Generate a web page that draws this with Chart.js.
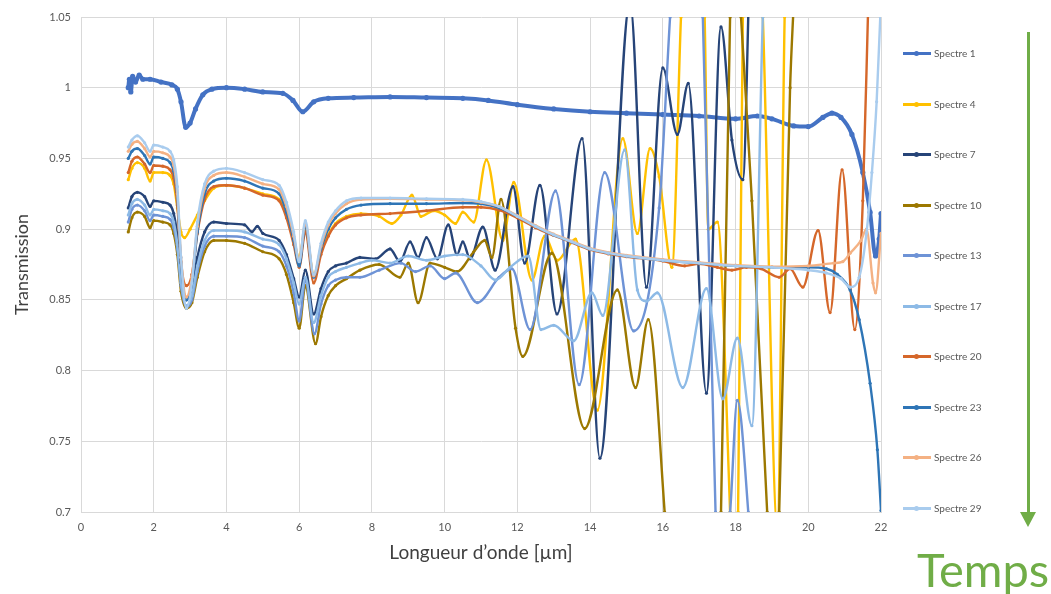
<!DOCTYPE html>
<html>
<head>
<meta charset="utf-8">
<script src="https://cdn.jsdelivr.net/npm/chart.js@4.4.1/dist/chart.umd.min.js"></script>
<style>
  html, body { margin: 0; padding: 0; background: #fff; }
  #wrap { position: relative; width: 1051px; height: 594px; font-family: Lato, "Open Sans", sans-serif; }
  #chart { position: absolute; left: 0; top: 0; }
  .leg { position: absolute; left: 903px; height: 12px; font-size: 10px; color: #595959; white-space: nowrap; }
  .leg .ln { position: absolute; left: 0; top: 5px; width: 28px; height: 3px; }
  .leg .dot { position: absolute; left: 11px; top: 4px; width: 5px; height: 5px; border-radius: 50%; }
  .leg .tx { position: absolute; left: 31px; top: 0px; }
  #shaft { position: absolute; left: 1027px; top: 32px; width: 3px; height: 482px; background: #70AD47; }
  #head { position: absolute; left: 1020px; top: 512px; width: 0; height: 0;
          border-left: 8.5px solid transparent; border-right: 8.5px solid transparent; border-top: 15px solid #70AD47; }
  #temps { position: absolute; left: 917px; top: 544px; font-size: 47px; color: #70AD47; line-height: 50px; }
</style>
</head>
<body>
<div id="wrap">
  <canvas id="chart" width="1051" height="594"></canvas>
  <div id="legend"></div>
  <div id="shaft"></div>
  <div id="head"></div>
  <div id="temps">Temps</div>
</div>
<script>
const names = ["Spectre 1", "Spectre 4", "Spectre 7", "Spectre 10", "Spectre 13",
               "Spectre 17", "Spectre 20", "Spectre 23", "Spectre 26", "Spectre 29"];
const colors = ["#4472C4", "#FFC000", "#264478", "#9C7800", "#6E93D6",
                "#8DBAE6", "#D5672A", "#2E75B6", "#F4B183", "#A9CCEE"];
const xTicks = [0, 2, 4, 6, 8, 10, 12, 14, 16, 18, 20, 22];
const yTicks = [0.7, 0.75, 0.8, 0.85, 0.9, 0.95, 1, 1.05];

// [wavelength µm, transmission]
const spectre1 = [[1.3,1.0],[1.33,1.006],[1.37,0.997],[1.42,1.008],[1.5,1.004],[1.6,1.009],[1.7,1.006],[1.9,1.006],[2.2,1.004],[2.5,1.002],[2.65,0.999],[2.75,0.99],[2.88,0.972],[3.0,0.975],[3.15,0.985],[3.35,0.995],[3.6,0.999],[4.0,1.0],[4.5,0.999],[5.0,0.997],[5.55,0.996],[5.83,0.991],[6.1,0.983],[6.4,0.99],[6.8,0.9925],[7.5,0.993],[8.5,0.9935],[9.5,0.993],[10.5,0.9925],[11.2,0.991],[12.0,0.988],[13.0,0.985],[14.0,0.983],[15.0,0.982],[16.0,0.981],[17.0,0.98],[18.0,0.978],[18.6,0.98],[19.0,0.978],[19.6,0.973],[20.0,0.9725],[20.4,0.979],[20.65,0.982],[20.9,0.979],[21.2,0.967],[21.5,0.94],[21.7,0.912],[21.85,0.881],[21.95,0.893],[22.0,0.911]];
const spectre4 = [[1.3,0.935],[1.4,0.943],[1.55,0.947],[1.75,0.943],[1.9,0.934],[2.0,0.94],[2.25,0.94],[2.45,0.938],[2.55,0.932],[2.65,0.915],[2.75,0.898],[2.85,0.894],[3.0,0.9],[3.2,0.91],[3.4,0.92],[3.65,0.929],[4.0,0.931],[4.5,0.929],[5.0,0.925],[5.45,0.921],[5.65,0.91],[5.85,0.892],[6.0,0.88],[6.17,0.9],[6.4,0.868],[6.6,0.884],[6.8,0.896],[7.0,0.904],[7.3,0.909],[7.7,0.911],[8.2,0.909],[8.55,0.904],[8.8,0.91],[9.1,0.924],[9.35,0.909],[9.7,0.913],[10.0,0.91],[10.3,0.904],[10.5,0.912],[10.8,0.905],[11.15,0.949],[11.6,0.892],[11.9,0.933],[12.4,0.864],[12.75,0.895],[13.1,0.878],[13.6,0.893],[14.2,0.772],[14.9,0.964],[15.3,0.897],[15.65,0.957],[15.9,0.937],[16.25,0.873],[16.5,1.05],[16.8,1.2],[17.15,1.05],[17.25,0.9],[17.5,0.905],[17.85,0.7],[17.95,0.62],[18.07,0.7],[18.2,1.05],[18.45,1.2],[18.75,1.05],[19.15,0.69],[19.35,1.05],[19.5,1.2]];
const spectre7 = [[1.3,0.915],[1.4,0.923],[1.55,0.926],[1.75,0.923],[1.9,0.916],[2.0,0.92],[2.25,0.919],[2.45,0.917],[2.55,0.911],[2.65,0.895],[2.75,0.868],[2.9,0.85],[3.05,0.858],[3.2,0.88],[3.4,0.898],[3.65,0.905],[4.0,0.904],[4.5,0.903],[4.7,0.898],[4.85,0.902],[5.0,0.897],[5.45,0.892],[5.65,0.882],[5.85,0.865],[6.0,0.852],[6.17,0.871],[6.4,0.84],[6.6,0.858],[6.8,0.87],[7.0,0.874],[7.3,0.876],[7.67,0.88],[8.1,0.879],[8.5,0.886],[8.77,0.877],[9.05,0.891],[9.27,0.88],[9.5,0.894],[9.8,0.879],[10.1,0.903],[10.34,0.882],[10.5,0.891],[10.7,0.879],[11.05,0.9015],[11.39,0.871],[11.88,0.93],[12.2,0.876],[12.62,0.931],[13.09,0.84],[13.78,0.964],[14.27,0.738],[15.1,1.06],[15.55,0.859],[16.0,1.014],[16.4,0.967],[16.7,1.003],[17.2,0.784],[17.6,1.043],[17.9,0.963],[18.2,0.935],[18.4,1.1]];
const spectre10 = [[1.3,0.898],[1.4,0.908],[1.55,0.912],[1.75,0.909],[1.9,0.901],[2.0,0.906],[2.25,0.905],[2.45,0.903],[2.55,0.897],[2.65,0.882],[2.75,0.856],[2.9,0.844],[3.05,0.848],[3.2,0.866],[3.4,0.884],[3.65,0.892],[4.0,0.892],[4.5,0.89],[5.0,0.884],[5.45,0.879],[5.65,0.868],[5.85,0.848],[6.0,0.83],[6.17,0.86],[6.45,0.819],[6.6,0.838],[6.8,0.853],[7.0,0.86],[7.3,0.865],[7.67,0.871],[8.2,0.875],[8.77,0.866],[9.0,0.876],[9.27,0.848],[9.6,0.876],[10.0,0.873],[10.34,0.87],[10.8,0.884],[11.1,0.892],[11.3,0.88],[11.55,0.921],[11.95,0.83],[12.15,0.81],[12.95,0.883],[13.85,0.759],[14.75,0.857],[15.25,0.788],[15.6,0.836],[16.05,0.7],[16.3,0.6],[17.4,0.6],[17.6,0.7],[17.85,1.05],[18.0,1.12],[18.15,1.05],[18.45,0.92],[18.87,0.7],[19.0,0.62],[19.2,0.7],[19.5,1.0],[19.6,1.06]];
const spectre13 = [[1.3,0.905],[1.4,0.914],[1.55,0.917],[1.75,0.913],[1.9,0.906],[2.0,0.91],[2.25,0.909],[2.45,0.907],[2.55,0.901],[2.65,0.886],[2.75,0.86],[2.9,0.845],[3.05,0.85],[3.2,0.87],[3.4,0.888],[3.65,0.895],[4.0,0.895],[4.5,0.894],[5.0,0.888],[5.45,0.884],[5.65,0.874],[5.85,0.855],[6.0,0.835],[6.17,0.864],[6.42,0.826],[6.6,0.847],[6.8,0.86],[7.0,0.864],[7.3,0.866],[7.67,0.866],[8.2,0.871],[8.8,0.876],[9.2,0.87],[9.6,0.874],[10.0,0.865],[10.3,0.869],[10.9,0.848],[11.5,0.866],[11.85,0.872],[12.35,0.829],[13.05,0.927],[13.7,0.79],[14.4,0.94],[15.2,0.828],[15.9,0.915],[16.2,1.05],[16.6,1.2],[17.1,1.05],[17.45,0.7],[17.6,0.65],[17.85,0.7],[18.05,0.779],[18.35,0.7],[18.5,0.64]];
const spectre17 = [[1.3,0.91],[1.4,0.918],[1.55,0.921],[1.75,0.917],[1.9,0.91],[2.0,0.914],[2.25,0.913],[2.45,0.911],[2.55,0.905],[2.65,0.889],[2.75,0.862],[2.9,0.846],[3.05,0.853],[3.2,0.874],[3.4,0.892],[3.65,0.899],[4.0,0.899],[4.5,0.898],[5.0,0.893],[5.45,0.889],[5.65,0.879],[5.85,0.862],[6.0,0.847],[6.17,0.866],[6.4,0.834],[6.6,0.853],[6.8,0.866],[7.0,0.87],[7.3,0.873],[7.67,0.876],[8.0,0.878],[8.5,0.876],[9.0,0.881],[9.5,0.878],[10.0,0.881],[10.5,0.882],[11.0,0.874],[11.4,0.864],[11.8,0.873],[12.3,0.881],[12.65,0.829],[13.0,0.832],[13.55,0.821],[14.05,0.855],[14.35,0.839],[14.95,0.956],[15.3,0.857],[15.55,0.849],[15.85,0.855],[16.55,0.788],[17.2,0.858],[17.65,0.78],[18.05,0.823],[18.45,0.761],[18.75,1.05],[18.9,1.15]];
const spectre20 = [[1.3,0.94],[1.4,0.948],[1.55,0.951],[1.75,0.946],[1.9,0.94],[2.0,0.945],[2.25,0.9445],[2.45,0.942],[2.55,0.936],[2.65,0.917],[2.75,0.877],[2.9,0.86],[3.05,0.868],[3.2,0.897],[3.4,0.921],[3.65,0.93],[4.0,0.931],[4.5,0.929],[5.0,0.924],[5.45,0.92],[5.65,0.908],[5.85,0.889],[6.0,0.873],[6.17,0.898],[6.4,0.862],[6.6,0.882],[6.8,0.895],[7.0,0.903],[7.3,0.908],[7.7,0.91],[8.5,0.911],[9.5,0.913],[10.5,0.9155],[11.0,0.9155],[11.5,0.9135],[12.0,0.908],[12.5,0.901],[13.0,0.8955],[13.5,0.8905],[14.0,0.8855],[14.5,0.8825],[15.0,0.8805],[16.0,0.8775],[16.6,0.874],[17.0,0.8755],[17.5,0.873],[17.9,0.871],[18.3,0.873],[18.7,0.872],[19.2,0.866],[19.5,0.872],[19.85,0.859],[20.27,0.899],[20.6,0.841],[20.93,0.942],[21.28,0.829],[21.5,0.92],[21.65,1.06]];
const spectre23 = [[1.3,0.95],[1.4,0.955],[1.55,0.957],[1.75,0.952],[1.9,0.946],[2.0,0.951],[2.25,0.95],[2.45,0.947],[2.55,0.941],[2.65,0.922],[2.75,0.876],[2.9,0.85],[3.05,0.862],[3.2,0.898],[3.4,0.925],[3.65,0.934],[4.0,0.936],[4.5,0.934],[5.0,0.929],[5.45,0.925],[5.65,0.912],[5.85,0.892],[6.0,0.874],[6.17,0.902],[6.4,0.866],[6.6,0.886],[6.8,0.9],[7.0,0.908],[7.3,0.914],[7.7,0.917],[8.5,0.918],[9.5,0.918],[10.5,0.9185],[11.0,0.918],[11.5,0.915],[12.0,0.909],[12.5,0.902],[13.0,0.896],[13.5,0.891],[14.0,0.886],[14.5,0.883],[15.0,0.881],[16.0,0.878],[17.0,0.876],[18.0,0.874],[19.0,0.873],[20.0,0.873],[20.5,0.872],[20.8,0.868],[21.15,0.857],[21.4,0.836],[21.7,0.791],[21.9,0.744],[22.0,0.701]];
const spectre26 = [[1.3,0.955],[1.4,0.96],[1.55,0.962],[1.75,0.957],[1.9,0.951],[2.0,0.955],[2.25,0.954],[2.45,0.951],[2.55,0.945],[2.65,0.925],[2.75,0.88],[2.9,0.852],[3.05,0.866],[3.2,0.902],[3.4,0.929],[3.65,0.938],[4.0,0.94],[4.5,0.937],[5.0,0.932],[5.45,0.928],[5.65,0.916],[5.85,0.895],[6.0,0.878],[6.17,0.904],[6.4,0.867],[6.6,0.888],[6.8,0.903],[7.0,0.911],[7.3,0.918],[7.7,0.921],[8.5,0.9215],[9.5,0.921],[10.5,0.9205],[11.0,0.919],[11.5,0.916],[12.0,0.9095],[12.5,0.9025],[13.0,0.8965],[13.5,0.8915],[14.0,0.8865],[14.5,0.8835],[15.0,0.8815],[16.0,0.8785],[17.0,0.8765],[18.0,0.8745],[19.0,0.8735],[20.0,0.874],[20.7,0.876],[20.95,0.877],[21.15,0.883],[21.45,0.892],[21.6,0.9],[21.78,0.862],[21.85,0.855],[22.0,0.897]];
const spectre29 = [[1.3,0.958],[1.4,0.963],[1.55,0.966],[1.75,0.961],[1.9,0.955],[2.0,0.9595],[2.25,0.958],[2.45,0.955],[2.55,0.949],[2.65,0.93],[2.75,0.88],[2.9,0.844],[3.05,0.862],[3.2,0.905],[3.4,0.932],[3.65,0.941],[4.0,0.943],[4.5,0.94],[5.0,0.935],[5.45,0.931],[5.65,0.919],[5.85,0.898],[6.0,0.877],[6.17,0.906],[6.4,0.868],[6.6,0.89],[6.8,0.905],[7.0,0.913],[7.3,0.92],[7.7,0.922],[8.5,0.922],[9.5,0.9215],[10.5,0.921],[11.0,0.9195],[11.5,0.916],[12.0,0.909],[12.5,0.902],[13.0,0.896],[13.5,0.891],[14.0,0.886],[14.5,0.883],[15.0,0.881],[16.0,0.878],[17.0,0.876],[18.0,0.874],[19.0,0.873],[20.0,0.871],[20.5,0.869],[20.9,0.865],[21.15,0.859],[21.4,0.866],[21.6,0.897],[21.75,0.94],[21.88,0.99],[21.98,1.05],[22.0,1.06]];

const series = [spectre1, spectre4, spectre7, spectre10, spectre13, spectre17, spectre20, spectre23, spectre26, spectre29];

const fontFamily = "Lato, 'Open Sans', sans-serif";

// legend built from the same names/colours
const legend = document.getElementById("legend");
names.forEach((name, i) => {
  const item = document.createElement("div");
  item.className = "leg";
  item.style.top = Math.round(47 + i * 50.5) + "px";
  item.innerHTML = `<div class="ln" style="background:${colors[i]}"></div>` +
                   `<div class="dot" style="background:${colors[i]}"></div>` +
                   `<div class="tx">${name}</div>`;
  legend.appendChild(item);
});

const datasets = series.map((pts, i) => ({
  label: names[i],
  data: pts.map(([x, y]) => ({ x, y })),
  borderColor: colors[i],
  backgroundColor: colors[i],
  borderWidth: i === 0 ? 4 : 2.4,
  pointRadius: i === 0 ? 2.6 : 1.6,
  pointBorderWidth: 0,
  pointBackgroundColor: colors[i],
  tension: 0.4,
  cubicInterpolationMode: "monotone",
  fill: false,
  order: names.length - i
}));

new Chart(document.getElementById("chart").getContext("2d"), {
  type: "line",
  data: { datasets },
  options: {
    responsive: false,
    animation: false,
    devicePixelRatio: 1,
    layout: { padding: { left: 0, top: 17, right: 170, bottom: 0 } },
    plugins: { legend: { display: false }, tooltip: { enabled: false } },
    scales: {
      x: {
        type: "linear",
        min: xTicks[0],
        max: xTicks[xTicks.length - 1],
        afterBuildTicks: s => { s.ticks = xTicks.map(v => ({ value: v })); },
        afterFit: s => { s.height = 82; },
        ticks: { color: "#595959", font: { family: fontFamily, size: 11 }, padding: 9, maxRotation: 0 },
        grid: { color: "#D9D9D9", drawTicks: false },
        border: { color: "#D9D9D9" },
        title: { display: true, text: "Longueur d’onde [µm]", color: "#404040",
                 font: { family: fontFamily, size: 19 }, padding: { top: 0, bottom: 30 } }
      },
      y: {
        min: yTicks[0],
        max: yTicks[yTicks.length - 1],
        afterBuildTicks: s => { s.ticks = yTicks.map(v => ({ value: v })); },
        afterFit: s => { s.width = 81; },
        ticks: { color: "#595959", font: { family: fontFamily, size: 11 }, padding: 10,
                 callback: v => String(+v.toFixed(2)) },
        grid: { color: "#D9D9D9", drawTicks: false },
        border: { color: "#D9D9D9" },
        title: { display: true, text: "Transmission", color: "#404040",
                 font: { family: fontFamily, size: 18 }, padding: { top: 11, bottom: 0 } }
      }
    }
  }
});
</script>
</body>
</html>
